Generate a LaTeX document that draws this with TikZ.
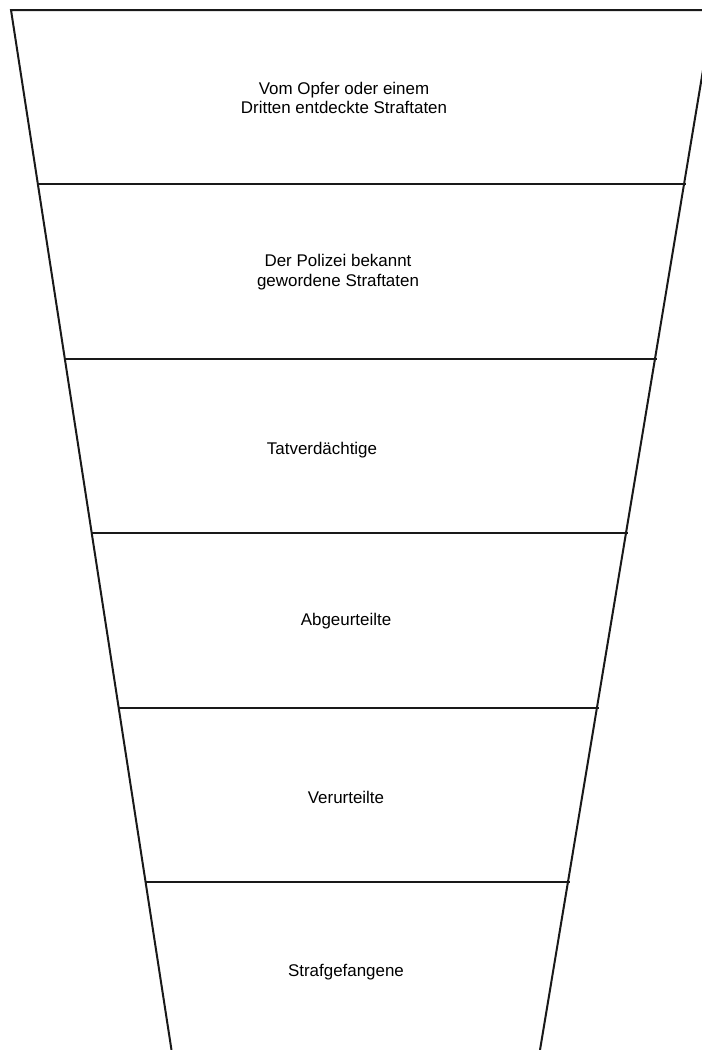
\documentclass[tikz,border=0pt]{standalone}
\usepackage{fontspec}
\setmainfont{Liberation Sans}
\begin{document}
\begin{tikzpicture}[x=1bp,y=-1bp,
  edge/.style={line width=2bp,black!90},
  lbl/.style={align=center,font=\fontsize{17}{19.5}\selectfont,inner sep=0pt}]
\useasboundingbox (0,0) rectangle (702,1050);
\begin{scope}
\clip (0,0) rectangle (702,1050);
\coordinate (TL) at (11,10);
\coordinate (TR) at (713,10);
\coordinate (BL) at (171.5,1050);
\coordinate (BR) at (540,1050);
\draw[edge] (TR) -- (TL) -- (BL);
\draw[edge] (TR) -- (BR);
\foreach \y/\n in {183.5/1,358.5/2,533/3,707.5/4,882/5}{
  \coordinate (L\n) at ({11+0.1543*(\y-10)},\y);
  \coordinate (R\n) at ({713-0.166*(\y-10)+2},\y);
  \draw[edge] (L\n) -- (R\n);
}
\end{scope}
\node[lbl] (t1) at (344,98) {Vom Opfer oder einem\\Dritten entdeckte Straftaten};
\node[lbl] (t2) at (338,272) {Der Polizei bekannt\\gewordene Straftaten};
\node[lbl] (t3) at (322,450) {Tatverdächtige};
\node[lbl] (t4) at (346,621) {Abgeurteilte};
\node[lbl] (t5) at (346,797) {Verurteilte};
\node[lbl] (t6) at (346,972) {Strafgefangene};
\end{tikzpicture}
\end{document}
